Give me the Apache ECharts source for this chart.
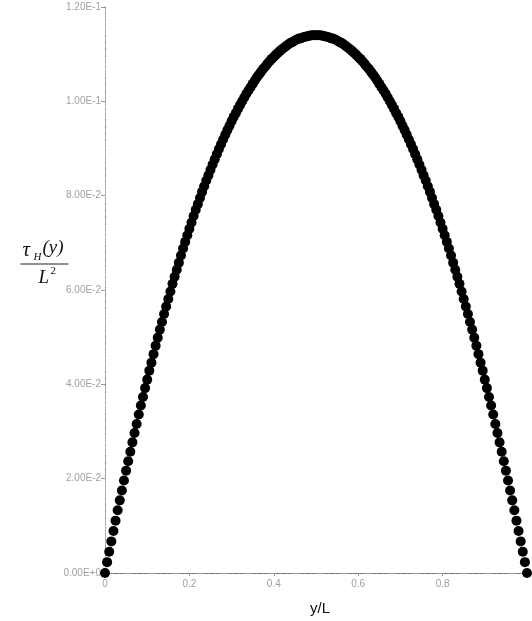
<!DOCTYPE html>
<html>
<head>
<meta charset="utf-8">
<script src="https://cdn.jsdelivr.net/npm/echarts@6/dist/echarts.min.js"></script>
<style>
  html, body { margin: 0; padding: 0; background: #fff; }
  #chart { width: 532px; height: 621px; }
</style>
</head>
<body>
<div id="chart"></div>
<script>
// y/L positions of the computed points
var yL = [
  0, 0.005, 0.01, 0.015, 0.02, 0.025, 0.03, 0.035, 0.04, 0.045,
  0.05, 0.055, 0.06, 0.065, 0.07, 0.075, 0.08, 0.085, 0.09, 0.095,
  0.1, 0.105, 0.11, 0.115, 0.12, 0.125, 0.13, 0.135, 0.14, 0.145,
  0.15, 0.155, 0.16, 0.165, 0.17, 0.175, 0.18, 0.185, 0.19, 0.195,
  0.2, 0.205, 0.21, 0.215, 0.22, 0.225, 0.23, 0.235, 0.24, 0.245,
  0.25, 0.255, 0.26, 0.265, 0.27, 0.275, 0.28, 0.285, 0.29, 0.295,
  0.3, 0.305, 0.31, 0.315, 0.32, 0.325, 0.33, 0.335, 0.34, 0.345,
  0.35, 0.355, 0.36, 0.365, 0.37, 0.375, 0.38, 0.385, 0.39, 0.395,
  0.4, 0.405, 0.41, 0.415, 0.42, 0.425, 0.43, 0.435, 0.44, 0.445,
  0.45, 0.455, 0.46, 0.465, 0.47, 0.475, 0.48, 0.485, 0.49, 0.495,
  0.5,
  0.505, 0.51, 0.515, 0.52, 0.525, 0.53, 0.535, 0.54, 0.545, 0.55,
  0.555, 0.56, 0.565, 0.57, 0.575, 0.58, 0.585, 0.59, 0.595, 0.6,
  0.605, 0.61, 0.615, 0.62, 0.625, 0.63, 0.635, 0.64, 0.645, 0.65,
  0.655, 0.66, 0.665, 0.67, 0.675, 0.68, 0.685, 0.69, 0.695, 0.7,
  0.705, 0.71, 0.715, 0.72, 0.725, 0.73, 0.735, 0.74, 0.745, 0.75,
  0.755, 0.76, 0.765, 0.77, 0.775, 0.78, 0.785, 0.79, 0.795, 0.8,
  0.805, 0.81, 0.815, 0.82, 0.825, 0.83, 0.835, 0.84, 0.845, 0.85,
  0.855, 0.86, 0.865, 0.87, 0.875, 0.88, 0.885, 0.89, 0.895, 0.9,
  0.905, 0.91, 0.915, 0.92, 0.925, 0.93, 0.935, 0.94, 0.945, 0.95,
  0.955, 0.96, 0.965, 0.97, 0.975, 0.98, 0.985, 0.99, 0.995, 1
];

// tau_H(y) / L^2
var tauH = [
  0, 0.0023, 0.0045, 0.0067, 0.0089, 0.0111, 0.0133, 0.0154, 0.0175, 0.0196,
  0.0217, 0.0237, 0.0257, 0.0277, 0.0297, 0.0316, 0.0336, 0.0355, 0.0373, 0.0392,
  0.0410, 0.0429, 0.0446, 0.0464, 0.0482, 0.0499, 0.0516, 0.0532, 0.0549, 0.0565,
  0.0581, 0.0597, 0.0613, 0.0628, 0.0643, 0.0658, 0.0673, 0.0688, 0.0702, 0.0716,
  0.0730, 0.0743, 0.0757, 0.0770, 0.0782, 0.0795, 0.0808, 0.0820, 0.0832, 0.0843,
  0.0855, 0.0866, 0.0877, 0.0888, 0.0899, 0.0909, 0.0919, 0.0929, 0.0939, 0.0948,
  0.0958, 0.0967, 0.0975, 0.0984, 0.0992, 0.1000, 0.1008, 0.1016, 0.1023, 0.1030,
  0.1037, 0.1044, 0.1051, 0.1057, 0.1063, 0.1069, 0.1074, 0.1080, 0.1085, 0.1090,
  0.1094, 0.1099, 0.1103, 0.1107, 0.1111, 0.1114, 0.1118, 0.1121, 0.1124, 0.1126,
  0.1129, 0.1131, 0.1133, 0.1134, 0.1136, 0.1137, 0.1138, 0.1139, 0.1140, 0.1140,
  0.1140,
  0.1140, 0.1140, 0.1139, 0.1138, 0.1137, 0.1136, 0.1134, 0.1133, 0.1131, 0.1129,
  0.1126, 0.1124, 0.1121, 0.1118, 0.1114, 0.1111, 0.1107, 0.1103, 0.1099, 0.1094,
  0.1090, 0.1085, 0.1080, 0.1074, 0.1069, 0.1063, 0.1057, 0.1051, 0.1044, 0.1037,
  0.1030, 0.1023, 0.1016, 0.1008, 0.1000, 0.0992, 0.0984, 0.0975, 0.0967, 0.0958,
  0.0948, 0.0939, 0.0929, 0.0919, 0.0909, 0.0899, 0.0888, 0.0877, 0.0866, 0.0855,
  0.0843, 0.0832, 0.0820, 0.0808, 0.0795, 0.0782, 0.0770, 0.0757, 0.0743, 0.0730,
  0.0716, 0.0702, 0.0688, 0.0673, 0.0658, 0.0643, 0.0628, 0.0613, 0.0597, 0.0581,
  0.0565, 0.0549, 0.0532, 0.0516, 0.0499, 0.0482, 0.0464, 0.0446, 0.0429, 0.0410,
  0.0392, 0.0373, 0.0355, 0.0336, 0.0316, 0.0297, 0.0277, 0.0257, 0.0237, 0.0217,
  0.0196, 0.0175, 0.0154, 0.0133, 0.0111, 0.0089, 0.0067, 0.0045, 0.0023, 0
];

var xTickLabels = ["0", "0.2", "0.4", "0.6", "0.8", ""];
var yTickLabels = ["0.00E+0", "2.00E-2", "4.00E-2", "6.00E-2", "8.00E-2", "1.00E-1", "1.20E-1"];

var points = yL.map(function (x, i) {
  return [x, tauH[i]];
});

var chart = echarts.init(document.getElementById("chart"));

var frameLine = { color: "#8a8a8a", width: 1, type: [4, 2] };
var labelStyle = { color: "#a0a0a0", fontSize: 10, fontFamily: "Liberation Sans" };

chart.setOption({
  animation: false,
  backgroundColor: "#fff",
  grid: { left: 105, right: 5, top: 7, bottom: 40 },
  xAxis: [
    {
      type: "value",
      min: 0,
      max: 1,
      interval: 0.2,
      position: "bottom",
      axisLine: { show: true, onZero: false, lineStyle: { color: "#555", width: 1, type: [6, 2] } },
      axisTick: { show: true, length: 3, lineStyle: { color: "#999" } },
      splitLine: { show: false },
      axisLabel: {
        margin: 6,
        color: labelStyle.color,
        fontSize: labelStyle.fontSize,
        fontFamily: labelStyle.fontFamily,
        formatter: function (v) {
          return xTickLabels[Math.round(v / 0.2)];
        }
      },
      name: "y/L",
      nameLocation: "middle",
      nameGap: 28,
      nameTextStyle: { color: "#111", fontSize: 15, fontFamily: "Liberation Sans", padding: [0, 0, 0, 8] }
    },
    {
      type: "value",
      min: 0,
      max: 1,
      position: "top",
      axisLine: { show: true, lineStyle: frameLine },
      axisTick: { show: false },
      axisLabel: { show: false },
      splitLine: { show: false }
    }
  ],
  yAxis: [
    {
      type: "value",
      min: 0,
      max: 0.12,
      interval: 0.02,
      position: "left",
      axisLine: { show: true, onZero: false, lineStyle: frameLine },
      axisTick: { show: true, length: 4, lineStyle: { color: "#999" } },
      splitLine: { show: false },
      axisLabel: {
        margin: 4,
        color: labelStyle.color,
        fontSize: labelStyle.fontSize,
        fontFamily: labelStyle.fontFamily,
        formatter: function (v) {
          return yTickLabels[Math.round(v / 0.02)];
        }
      }
    },
    {
      type: "value",
      min: 0,
      max: 0.12,
      position: "right",
      axisLine: { show: true, lineStyle: { color: "#b0b0b0", width: 1, type: [4, 3] } },
      axisTick: { show: false },
      axisLabel: { show: false },
      splitLine: { show: false }
    }
  ],
  graphic: [
    {
      type: "group",
      left: 18,
      top: 238,
      children: [
        { type: "text", x: 2, y: 6, style: { text: "τ", fill: "#111", font: "italic 21px 'Liberation Serif'" } },
        { type: "text", x: 13, y: 18, style: { text: "H", fill: "#111", font: "italic 11px 'Liberation Serif'" } },
        { type: "text", x: 22, y: 4, style: { text: "(y)", fill: "#111", font: "italic 19px 'Liberation Serif'" } },
        { type: "line", shape: { x1: 0, y1: 30, x2: 48, y2: 30 }, style: { stroke: "#222", lineWidth: 1 } },
        { type: "text", x: 18, y: 34, style: { text: "L", fill: "#111", font: "italic 19px 'Liberation Serif'" } },
        { type: "text", x: 30, y: 32, style: { text: "2", fill: "#111", font: "11px 'Liberation Serif'" } }
      ]
    }
  ],
  series: [
    {
      type: "scatter",
      xAxisIndex: 0,
      yAxisIndex: 0,
      symbol: "circle",
      symbolSize: 10,
      itemStyle: { color: "#000", opacity: 1 },
      data: points
    }
  ]
});
</script>
</body>
</html>
